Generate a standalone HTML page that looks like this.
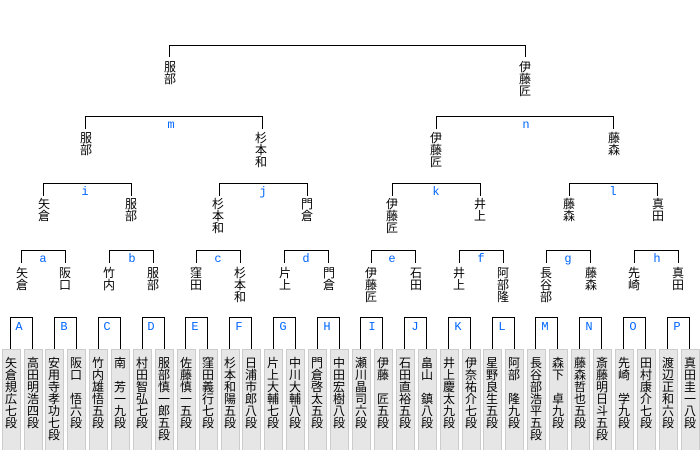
<!DOCTYPE html>
<html lang="ja"><head><meta charset="utf-8"><style>
html,body{margin:0;padding:0;background:#fff}
#p{position:relative;width:700px;height:450px;overflow:hidden;font-family:"Liberation Sans","WenQuanYi Zen Hei","Noto Sans CJK JP",sans-serif;font-size:12px;line-height:12px;color:#000}
.b{position:absolute;box-sizing:border-box;border:1px solid #000;border-bottom:0;background:transparent}
.n{position:absolute;width:12px;text-align:center;font-family:"WenQuanYi Zen Hei","Noto Sans CJK JP",sans-serif}
.c{position:absolute;top:349px;width:19px;height:101px;box-sizing:border-box;background:#e6e6e6;border:1px solid #ccc;border-bottom:0;padding:7px 0 0 2px;font-family:"WenQuanYi Zen Hei","Noto Sans CJK JP",sans-serif}
.l{position:absolute;width:16px;text-align:center;color:#06f;font-family:"Liberation Mono",monospace}
</style></head><body><div id="p">
<div class="b" style="left:169px;top:45px;width:357px;height:12px"></div>
<div class="n" style="left:164px;top:61px">服<br>部</div>
<div class="n" style="left:519px;top:61px">伊<br>藤<br>匠</div>
<div class="b" style="left:85px;top:116px;width:178px;height:13px"></div><div class="l" style="left:163px;top:119px">m</div>
<div class="b" style="left:436px;top:116px;width:178px;height:13px"></div><div class="l" style="left:518px;top:119px">n</div>
<div class="n" style="left:80px;top:132px">服<br>部</div>
<div class="n" style="left:255px;top:132px">杉<br>本<br>和</div>
<div class="n" style="left:430px;top:132px">伊<br>藤<br>匠</div>
<div class="n" style="left:608px;top:132px">藤<br>森</div>
<div class="b" style="left:43px;top:183px;width:89px;height:13px"></div><div class="l" style="left:77px;top:186px">i</div>
<div class="b" style="left:219px;top:183px;width:89px;height:13px"></div><div class="l" style="left:255px;top:186px">j</div>
<div class="b" style="left:392px;top:183px;width:89px;height:13px"></div><div class="l" style="left:428px;top:186px">k</div>
<div class="b" style="left:569px;top:183px;width:89px;height:13px"></div><div class="l" style="left:605px;top:186px">l</div>
<div class="n" style="left:38px;top:198px">矢<br>倉</div>
<div class="n" style="left:125px;top:198px">服<br>部</div>
<div class="n" style="left:212px;top:198px">杉<br>本<br>和</div>
<div class="n" style="left:301px;top:198px">門<br>倉</div>
<div class="n" style="left:386px;top:198px">伊<br>藤<br>匠</div>
<div class="n" style="left:474px;top:198px">井<br>上</div>
<div class="n" style="left:563px;top:198px">藤<br>森</div>
<div class="n" style="left:652px;top:198px">真<br>田</div>
<div class="b" style="left:21px;top:250px;width:45px;height:13px"></div><div class="l" style="left:35px;top:253px">a</div>
<div class="b" style="left:109px;top:250px;width:45px;height:13px"></div><div class="l" style="left:124px;top:253px">b</div>
<div class="b" style="left:196px;top:250px;width:45px;height:13px"></div><div class="l" style="left:210px;top:253px">c</div>
<div class="b" style="left:284px;top:250px;width:45px;height:13px"></div><div class="l" style="left:298px;top:253px">d</div>
<div class="b" style="left:371px;top:250px;width:45px;height:13px"></div><div class="l" style="left:384px;top:253px">e</div>
<div class="b" style="left:459px;top:250px;width:45px;height:13px"></div><div class="l" style="left:473px;top:253px">f</div>
<div class="b" style="left:546px;top:250px;width:45px;height:13px"></div><div class="l" style="left:560px;top:253px">g</div>
<div class="b" style="left:634px;top:250px;width:45px;height:13px"></div><div class="l" style="left:649px;top:253px">h</div>
<div class="n" style="left:16px;top:267px">矢<br>倉</div>
<div class="n" style="left:59px;top:267px">阪<br>口</div>
<div class="n" style="left:103px;top:267px">竹<br>内</div>
<div class="n" style="left:147px;top:267px">服<br>部</div>
<div class="n" style="left:190px;top:267px">窪<br>田</div>
<div class="n" style="left:234px;top:267px">杉<br>本<br>和</div>
<div class="n" style="left:279px;top:267px">片<br>上</div>
<div class="n" style="left:323px;top:267px">門<br>倉</div>
<div class="n" style="left:365px;top:267px">伊<br>藤<br>匠</div>
<div class="n" style="left:410px;top:267px">石<br>田</div>
<div class="n" style="left:453px;top:267px">井<br>上</div>
<div class="n" style="left:497px;top:267px">阿<br>部<br>隆</div>
<div class="n" style="left:540px;top:267px">長<br>谷<br>部</div>
<div class="n" style="left:585px;top:267px">藤<br>森</div>
<div class="n" style="left:628px;top:267px">先<br>崎</div>
<div class="n" style="left:672px;top:267px">真<br>田</div>
<div class="b" style="left:10px;top:317px;width:23px;height:32px"></div><div class="l" style="left:11px;top:321px">A</div>
<div class="b" style="left:54px;top:317px;width:23px;height:32px"></div><div class="l" style="left:56px;top:321px">B</div>
<div class="b" style="left:98px;top:317px;width:23px;height:32px"></div><div class="l" style="left:99px;top:321px">C</div>
<div class="b" style="left:142px;top:317px;width:23px;height:32px"></div><div class="l" style="left:143px;top:321px">D</div>
<div class="b" style="left:185px;top:317px;width:23px;height:32px"></div><div class="l" style="left:187px;top:321px">E</div>
<div class="b" style="left:229px;top:317px;width:23px;height:32px"></div><div class="l" style="left:231px;top:321px">F</div>
<div class="b" style="left:273px;top:317px;width:23px;height:32px"></div><div class="l" style="left:275px;top:321px">G</div>
<div class="b" style="left:317px;top:317px;width:23px;height:32px"></div><div class="l" style="left:319px;top:321px">H</div>
<div class="b" style="left:360px;top:317px;width:23px;height:32px"></div><div class="l" style="left:364px;top:321px">I</div>
<div class="b" style="left:404px;top:317px;width:23px;height:32px"></div><div class="l" style="left:407px;top:321px">J</div>
<div class="b" style="left:448px;top:317px;width:23px;height:32px"></div><div class="l" style="left:450px;top:321px">K</div>
<div class="b" style="left:492px;top:317px;width:23px;height:32px"></div><div class="l" style="left:494px;top:321px">L</div>
<div class="b" style="left:535px;top:317px;width:23px;height:32px"></div><div class="l" style="left:537px;top:321px">M</div>
<div class="b" style="left:579px;top:317px;width:23px;height:32px"></div><div class="l" style="left:581px;top:321px">N</div>
<div class="b" style="left:623px;top:317px;width:23px;height:32px"></div><div class="l" style="left:625px;top:321px">O</div>
<div class="b" style="left:667px;top:317px;width:23px;height:32px"></div><div class="l" style="left:669px;top:321px">P</div>
<div class="c" style="left:2px">矢<br>倉<br>規<br>広<br>七<br>段</div>
<div class="c" style="left:24px">高<br>田<br>明<br>浩<br>四<br>段</div>
<div class="c" style="left:45px">安<br>用<br>寺<br>孝<br>功<br>七<br>段</div>
<div class="c" style="left:67px">阪<br>口<br>　<br>悟<br>六<br>段</div>
<div class="c" style="left:89px">竹<br>内<br>雄<br>悟<br>五<br>段</div>
<div class="c" style="left:111px">南<br>　<br>芳<br>一<br>九<br>段</div>
<div class="c" style="left:133px">村<br>田<br>智<br>弘<br>七<br>段</div>
<div class="c" style="left:155px">服<br>部<br>慎<br>一<br>郎<br>五<br>段</div>
<div class="c" style="left:177px">佐<br>藤<br>慎<br>一<br>五<br>段</div>
<div class="c" style="left:199px">窪<br>田<br>義<br>行<br>七<br>段</div>
<div class="c" style="left:221px">杉<br>本<br>和<br>陽<br>五<br>段</div>
<div class="c" style="left:242px">日<br>浦<br>市<br>郎<br>八<br>段</div>
<div class="c" style="left:264px">片<br>上<br>大<br>輔<br>七<br>段</div>
<div class="c" style="left:286px">中<br>川<br>大<br>輔<br>八<br>段</div>
<div class="c" style="left:308px">門<br>倉<br>啓<br>太<br>五<br>段</div>
<div class="c" style="left:330px">中<br>田<br>宏<br>樹<br>八<br>段</div>
<div class="c" style="left:352px">瀬<br>川<br>晶<br>司<br>六<br>段</div>
<div class="c" style="left:374px">伊<br>藤<br>　<br>匠<br>五<br>段</div>
<div class="c" style="left:396px">石<br>田<br>直<br>裕<br>五<br>段</div>
<div class="c" style="left:418px">畠<br>山<br>　<br>鎮<br>八<br>段</div>
<div class="c" style="left:440px">井<br>上<br>慶<br>太<br>九<br>段</div>
<div class="c" style="left:462px">伊<br>奈<br>祐<br>介<br>七<br>段</div>
<div class="c" style="left:483px">星<br>野<br>良<br>生<br>五<br>段</div>
<div class="c" style="left:505px">阿<br>部<br>　<br>隆<br>九<br>段</div>
<div class="c" style="left:527px">長<br>谷<br>部<br>浩<br>平<br>五<br>段</div>
<div class="c" style="left:549px">森<br>下<br>　<br>卓<br>九<br>段</div>
<div class="c" style="left:571px">藤<br>森<br>哲<br>也<br>五<br>段</div>
<div class="c" style="left:593px">斎<br>藤<br>明<br>日<br>斗<br>五<br>段</div>
<div class="c" style="left:615px">先<br>崎<br>　<br>学<br>九<br>段</div>
<div class="c" style="left:637px">田<br>村<br>康<br>介<br>七<br>段</div>
<div class="c" style="left:659px">渡<br>辺<br>正<br>和<br>六<br>段</div>
<div class="c" style="left:681px">真<br>田<br>圭<br>一<br>八<br>段</div>
</div></body></html>
